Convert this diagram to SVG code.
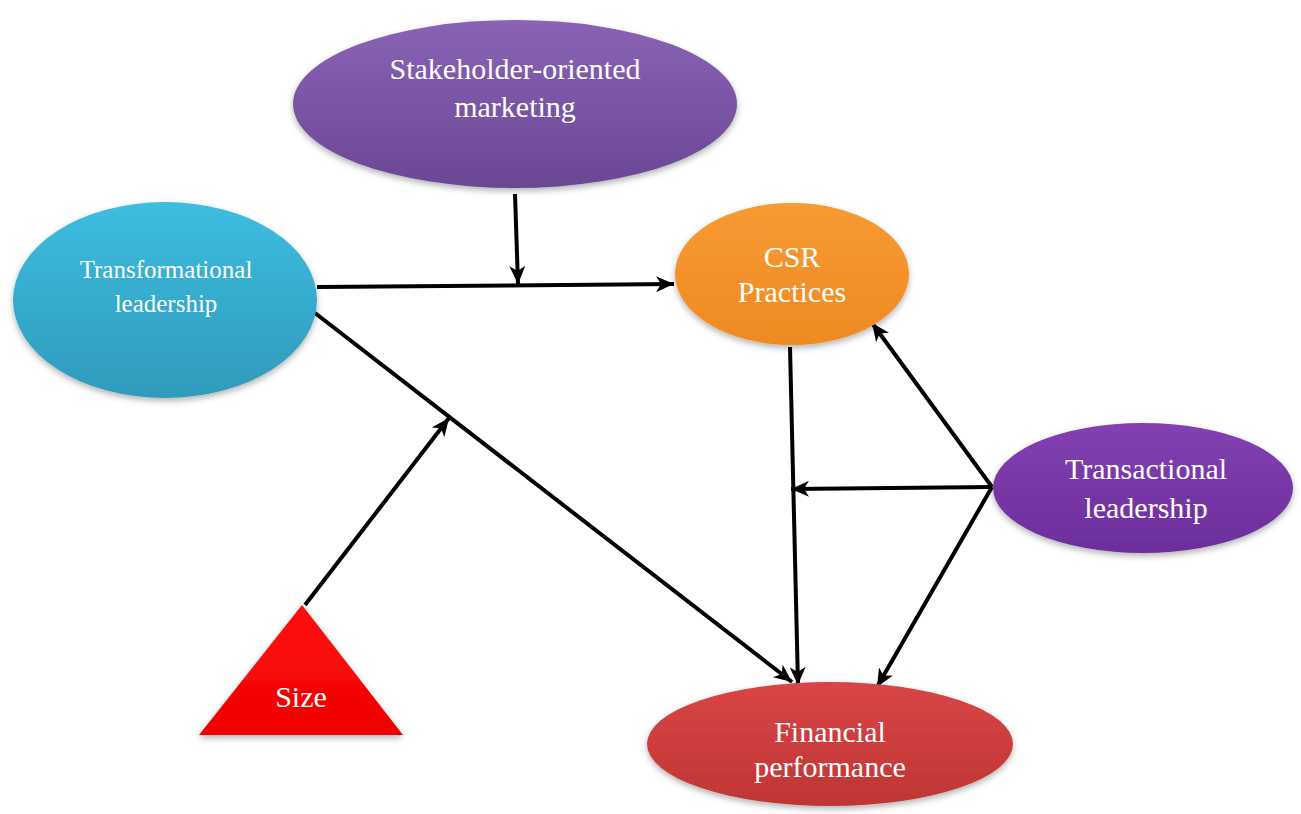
<svg xmlns="http://www.w3.org/2000/svg" width="1301" height="814" viewBox="0 0 1301 814">
<style>
.lbl{font-family:"Liberation Serif","Times New Roman",serif;fill:#ffffff;text-anchor:middle;font-size:30px}
.small{font-size:25px}
.conn{stroke:#000;stroke-width:4;fill:none}
</style>
<defs>
<linearGradient id="gStake" x1="0" y1="0" x2="0" y2="1"><stop offset="0" stop-color="#8a63b5"/><stop offset="1" stop-color="#6a4794"/></linearGradient>
<linearGradient id="gTransf" x1="0" y1="0" x2="0" y2="1"><stop offset="0" stop-color="#3dbde0"/><stop offset="1" stop-color="#2f9abc"/></linearGradient>
<linearGradient id="gCsr" x1="0" y1="0" x2="0" y2="1"><stop offset="0" stop-color="#f89a34"/><stop offset="1" stop-color="#ee8a22"/></linearGradient>
<linearGradient id="gTransa" x1="0" y1="0" x2="0" y2="1"><stop offset="0" stop-color="#8340b2"/><stop offset="1" stop-color="#6c2e9b"/></linearGradient>
<linearGradient id="gFin" x1="0" y1="0" x2="0" y2="1"><stop offset="0" stop-color="#d94545"/><stop offset="1" stop-color="#c03535"/></linearGradient>
<linearGradient id="gSize" x1="0" y1="0" x2="0" y2="1"><stop offset="0" stop-color="#ff1010"/><stop offset="1" stop-color="#f00000"/></linearGradient>
<filter id="sh" x="-10%" y="-10%" width="120%" height="130%"><feDropShadow dx="0" dy="3" stdDeviation="3" flood-color="#000" flood-opacity="0.3"/></filter>
<marker id="arr" markerUnits="userSpaceOnUse" markerWidth="20" markerHeight="16" refX="18" refY="8" orient="auto"><path d="M0,0 L18,8 L0,16 L5,8 Z" fill="#000"/></marker>
</defs>

<g id="connectors">
<line class="conn" x1="317" y1="287" x2="674" y2="284" marker-end="url(#arr)"/>
<line class="conn" x1="515" y1="194" x2="518" y2="284" marker-end="url(#arr)"/>
<line class="conn" x1="315" y1="313" x2="792" y2="682" marker-end="url(#arr)"/>
<line class="conn" x1="305" y1="605" x2="449" y2="418" marker-end="url(#arr)"/>
<line class="conn" x1="790" y1="347" x2="798" y2="685" marker-end="url(#arr)"/>
<line class="conn" x1="992" y1="487" x2="872" y2="323" marker-end="url(#arr)"/>
<line class="conn" x1="992" y1="487" x2="791" y2="489" marker-end="url(#arr)"/>
<line class="conn" x1="992" y1="487" x2="877" y2="687" marker-end="url(#arr)"/>
</g>

<g id="stakeholder">
<ellipse cx="515" cy="104" rx="222" ry="84" fill="url(#gStake)" filter="url(#sh)"/>
<text class="lbl" x="515" y="79">Stakeholder-oriented</text>
<text class="lbl" x="515" y="117">marketing</text>
</g>

<g id="transformational">
<ellipse cx="165" cy="300" rx="152" ry="98" fill="url(#gTransf)" filter="url(#sh)"/>
<text class="lbl small" x="166" y="278">Transformational</text>
<text class="lbl small" x="166" y="312">leadership</text>
</g>

<g id="csr">
<ellipse cx="792" cy="274" rx="117" ry="71" fill="url(#gCsr)" filter="url(#sh)"/>
<text class="lbl" x="792" y="267">CSR</text>
<text class="lbl" x="792" y="302">Practices</text>
</g>

<g id="transactional">
<ellipse cx="1143" cy="488" rx="150" ry="65" fill="url(#gTransa)" filter="url(#sh)"/>
<text class="lbl" x="1146" y="479">Transactional</text>
<text class="lbl" x="1146" y="518">leadership</text>
</g>

<g id="financial">
<ellipse cx="830" cy="744" rx="183" ry="62" fill="url(#gFin)" filter="url(#sh)"/>
<text class="lbl" x="830" y="742">Financial</text>
<text class="lbl" x="830" y="777">performance</text>
</g>

<g id="size">
<polygon points="302,605 403,735 199,735" fill="url(#gSize)" filter="url(#sh)"/>
<text class="lbl" x="301" y="707">Size</text>
</g>
</svg>
